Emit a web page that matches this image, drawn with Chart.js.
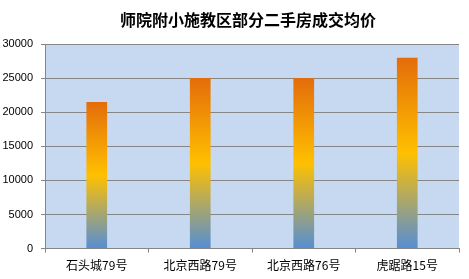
<!DOCTYPE html>
<html>
<head>
<meta charset="utf-8">
<script src="https://cdn.jsdelivr.net/npm/chart.js@4/dist/chart.umd.min.js"></script>
<style>
  html, body { margin: 0; padding: 0; background: #fff; }
</style>
</head>
<body>
<canvas id="priceChart" width="469" height="279"></canvas>
<script>
// data
const chartTitle = '师院附小施教区部分二手房成交均价';
const labels = ['石头城79号', '北京西路79号', '北京西路76号', '虎踞路15号'];
const prices = [21500, 25000, 25000, 28000];
const yTicks = [0, 5000, 10000, 15000, 20000, 25000, 30000];

// light blue plot background + title centred over the plot area
const plotBackground = {
  id: 'plotBackground',
  beforeDraw(chart) {
    const { ctx, chartArea } = chart;
    ctx.save();
    ctx.fillStyle = '#C6D9F1';
    ctx.fillRect(chartArea.left, chartArea.top, chartArea.right - chartArea.left, chartArea.bottom - chartArea.top);
    ctx.restore();
  },
  afterDraw(chart) {
    const { ctx, chartArea } = chart;
    ctx.save();
    ctx.fillStyle = '#000';
    ctx.font = 'bold 16px "Noto Sans CJK SC"';
    ctx.textAlign = 'center';
    ctx.textBaseline = 'middle';
    ctx.fillText(chartTitle, (chartArea.left + chartArea.right) / 2 - 4, 20);
    ctx.restore();
  }
};

// every bar gets its own orange -> yellow -> blue gradient
const barGradient = (context) => {
  const chart = context.chart;
  if (!chart.chartArea) return null;
  const y = chart.scales.y;
  const top = y.getPixelForValue(context.raw);
  const bottom = y.getPixelForValue(0);
  const g = chart.ctx.createLinearGradient(0, top, 0, bottom);
  g.addColorStop(0, '#E46C0A');
  g.addColorStop(0.5, '#FFC000');
  g.addColorStop(1, '#558ED5');
  return g;
};

new Chart(document.getElementById('priceChart'), {
  type: 'bar',
  data: {
    labels: labels,
    datasets: [{
      data: prices,
      backgroundColor: barGradient,
      borderWidth: 0,
      categoryPercentage: 1,
      barPercentage: 0.2
    }]
  },
  options: {
    responsive: false,
    animation: false,
    layout: { padding: { left: 2, right: 10, top: 44, bottom: 0 } },
    plugins: {
      legend: { display: false },
      tooltip: { enabled: false },
      title: { display: false }
    },
    scales: {
      x: {
        grid: { drawOnChartArea: false, drawTicks: true, tickLength: 4, color: '#868686', offset: true },
        border: { color: '#868686', width: 1 },
        ticks: {
          color: '#000',
          padding: 6,
          maxRotation: 0,
          font: { family: '"Noto Sans CJK SC"', size: 12 }
        }
      },
      y: {
        min: 0,
        max: 30000,
        afterBuildTicks: (axis) => { axis.ticks = yTicks.map(v => ({ value: v })); },
        afterFit: (axis) => { axis.width = 43; },
        grid: { color: '#868686', tickLength: 4 },
        border: { color: '#868686', width: 1 },
        ticks: {
          color: '#000',
          padding: 8,
          callback: (v) => String(v),
          font: { family: '"Liberation Sans"', size: 11 }
        }
      }
    }
  },
  plugins: [plotBackground]
});
</script>
</body>
</html>
